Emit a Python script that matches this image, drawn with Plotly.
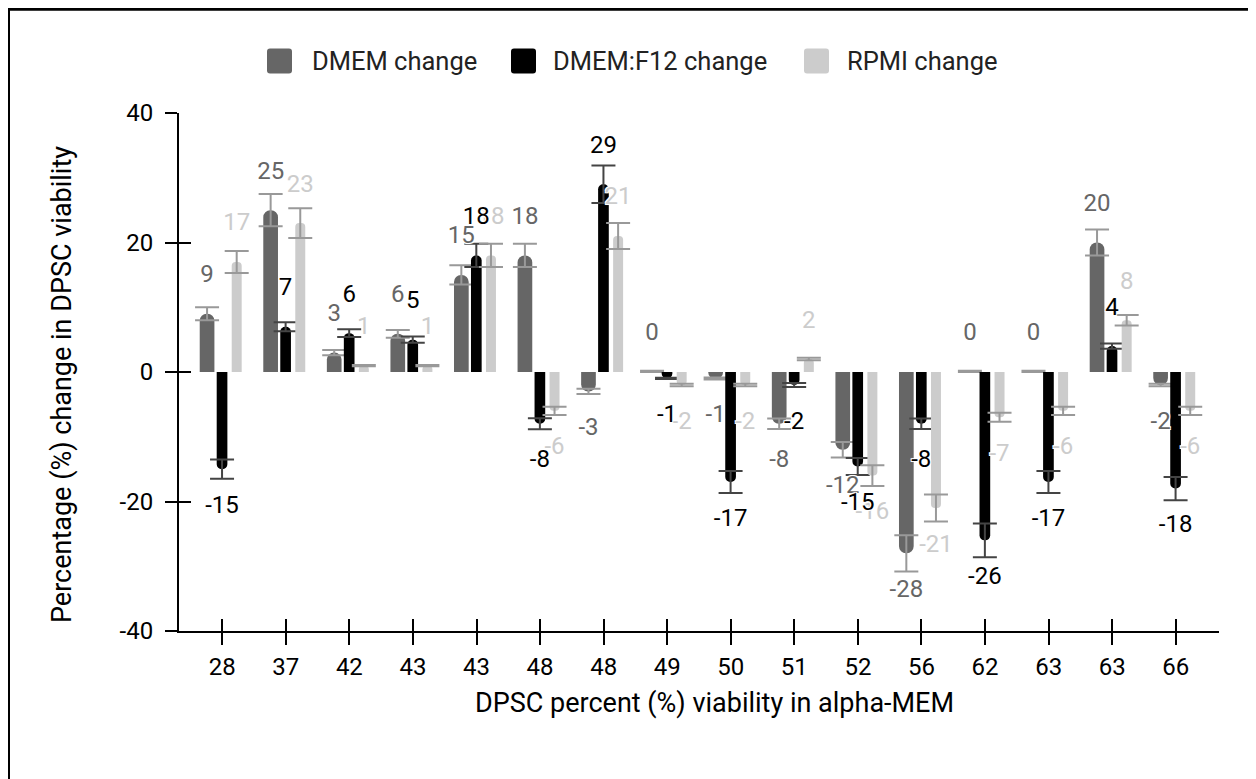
import plotly.graph_objects as go

# ---------------- data ----------------
categories = ["28", "37", "42", "43", "43", "48", "48", "49",
              "50", "51", "52", "56", "62", "63", "63", "66"]

dmem_change = [9, 25, 3, 5.9, 15, 18, -3, 0.1, -1, -8, -12, -28, 0.1, 0.1, 20, -2]
dmem_error = [1, 2.5, 0.4, 0.6, 1.5, 1.8, 0.4, 0.1, 0.15, 0.8, 1.2, 2.8, 0.1, 0.1, 2.0, 0.2]

f12_change = [-15, 7, 6, 5, 18, -8, 29, -1, -17, -2, -14.6, -8, -26, -17, 4, -18]
f12_error = [1.5, 0.7, 0.6, 0.5, 1.8, 0.85, 2.9, 0.1, 1.7, 0.3, 1.3, 0.8, 2.6, 1.7, 0.4, 1.8]

rpmi_change = [17, 23, 1, 1, 18, -6, 21, -2, -2, 2, -16, -21, -7, -6, 8, -6]
rpmi_error = [1.7, 2.3, 0.1, 0.1, 1.8, 0.65, 2, 0.2, 0.2, 0.2, 1.6, 2.1, 0.7, 0.65, 0.8, 0.65]

series_names = ["DMEM change", "DMEM:F12 change", "RPMI change"]
y_ticks = [-40, -20, 0, 20, 40]
y_tick_text = ["-40", "-20", "0", "20", "40"]

# ---------------- styling ----------------
FONT = "Roboto"
colors = ["#666666", "#000000", "#cccccc"]
err_colors = ["#999999", "#444444", "#999999"]
offsets = [-0.354, -0.087, 0.149]
widths = [0.231, 0.168, 0.157]
LABEL_GAP = 5.8  # data units beyond bar end

# figure geometry (px, figure coordinates; page has an 8px body margin)
OFF = 8
W, H = 1256, 779
L, R, T = 179 - OFF, 1256 - (1219 - OFF), 113 - OFF
B = 779 - (631 - OFF)
PW, PH = W - L - R, H - T - B


def px_x(page_px):
    return (page_px - OFF - L) / PW


def px_y(page_py):
    return (H - B - (page_py - OFF)) / PH


x_idx = list(range(len(categories)))
fig = go.Figure()

all_vals = [dmem_change, f12_change, rpmi_change]
all_errs = [dmem_error, f12_error, rpmi_error]

for k in range(3):
    fig.add_trace(go.Bar(
        x=x_idx, y=all_vals[k], name=series_names[k],
        offset=offsets[k], width=widths[k],
        marker=dict(color=colors[k], line=dict(width=0), cornerradius="50%"),
        error_y=dict(type="data", array=all_errs[k], visible=True,
                     color=err_colors[k], thickness=2, width=12),
        showlegend=False, hoverinfo="skip",
    ))

halo = ("-1px -1px 0 #fff, 1px -1px 0 #fff, -1px 1px 0 #fff, 1px 1px 0 #fff, "
        "0 0 2px #fff")
for k in [0, 2, 1]:
    cx = [i + offsets[k] + widths[k] / 2 for i in x_idx]
    vals = all_vals[k]
    ly = [v + LABEL_GAP if v >= 0 else v - LABEL_GAP for v in vals]
    txt = [str(int(round(v))) for v in vals]
    fig.add_trace(go.Scatter(
        x=cx, y=ly, text=txt, mode="text", textposition="middle center",
        textfont=dict(family=FONT, size=24, color=colors[k], shadow=halo),
        showlegend=False, hoverinfo="skip", cliponaxis=False,
    ))

axis_common = dict(showgrid=False, zeroline=False, linecolor="#000", linewidth=2,
                   tickcolor="#000", tickwidth=2, ticklen=12,
                   tickfont=dict(family=FONT, size=24, color="#000"))

fig.update_layout(
    width=W, height=H,
    margin=dict(l=L, r=R, t=T, b=B, pad=0),
    paper_bgcolor="#fff", plot_bgcolor="#fff",
    barmode="overlay",
    font=dict(family=FONT, size=24, color="#000"),
    xaxis=dict(range=[-0.68, 15.68], tickmode="array", tickvals=x_idx,
               ticktext=categories, ticks="outside", showline=True,
               ticklabelstandoff=1, **axis_common),
    xaxis2=dict(overlaying="x", matches="x", anchor="y", side="bottom",
                tickmode="array", tickvals=x_idx, ticks="inside",
                showticklabels=False, showline=False, **axis_common),
    yaxis=dict(range=[-40, 40], tickmode="array", tickvals=y_ticks,
               ticktext=y_tick_text, ticks="outside", showline=True,
               ticklabelstandoff=7, **axis_common),
    yaxis2=dict(overlaying="y", matches="y", anchor="x", side="left",
                tickmode="array", tickvals=y_ticks, ticks="inside",
                showticklabels=False, showline=False, **axis_common),
    showlegend=False,
)

# dummy trace so the secondary axes are drawn
fig.add_trace(go.Scatter(x=[None], y=[None], xaxis="x2", yaxis="y2",
                         showlegend=False, hoverinfo="skip"))

annotations = [
    dict(text="DPSC percent (%) viability in alpha-MEM", xref="paper", yref="paper",
         x=px_x(714), y=px_y(703), showarrow=False, xanchor="center", yanchor="middle",
         font=dict(family=FONT, size=27, color="#000")),
    dict(text="Percentage (%) change in DPSC viability", xref="paper", yref="paper",
         x=px_x(62), y=px_y(385), showarrow=False, textangle=-90,
         xanchor="center", yanchor="middle",
         font=dict(family=FONT, size=27, color="#000")),
]

shapes = [dict(type="rect", xref="paper", yref="paper",
               x0=px_x(OFF + 0.5), x1=px_x(1300), y0=px_y(OFF + 1.2), y1=px_y(830),
               line=dict(color="#000", width=3), fillcolor="rgba(0,0,0,0)",
               layer="below")]


def rounded_square(x0p, y0p, size, r):
    x1p, y1p = x0p + size, y0p + size
    pts = [
        (x0p + r, y0p), (x1p - r, y0p), ("Q", x1p, y0p, x1p, y0p + r),
        (x1p, y1p - r), ("Q", x1p, y1p, x1p - r, y1p), (x0p + r, y1p),
        ("Q", x0p, y1p, x0p, y1p - r), (x0p, y0p + r), ("Q", x0p, y0p, x0p + r, y0p),
    ]
    path = ""
    for j, p in enumerate(pts):
        if p[0] == "Q":
            path += f" Q{px_x(p[1])},{px_y(p[2])} {px_x(p[3])},{px_y(p[4])}"
        else:
            path += ("M" if j == 0 else " L") + f"{px_x(p[0])},{px_y(p[1])}"
    return path + " Z"


legend_sq_x = [267, 511, 804]
legend_tx_x = [310, 551, 845]
for k in range(3):
    shapes.append(dict(type="path", xref="paper", yref="paper",
                       path=rounded_square(legend_sq_x[k], 48.5, 25, 3),
                       fillcolor=colors[k], line=dict(width=0)))
    annotations.append(dict(text=series_names[k], xref="paper", yref="paper",
                            x=px_x(legend_tx_x[k]), y=px_y(61), showarrow=False,
                            xanchor="left", yanchor="middle",
                            font=dict(family=FONT, size=25.5, color="#222")))

fig.update_layout(annotations=annotations, shapes=shapes)
fig.write_html("out.html")
